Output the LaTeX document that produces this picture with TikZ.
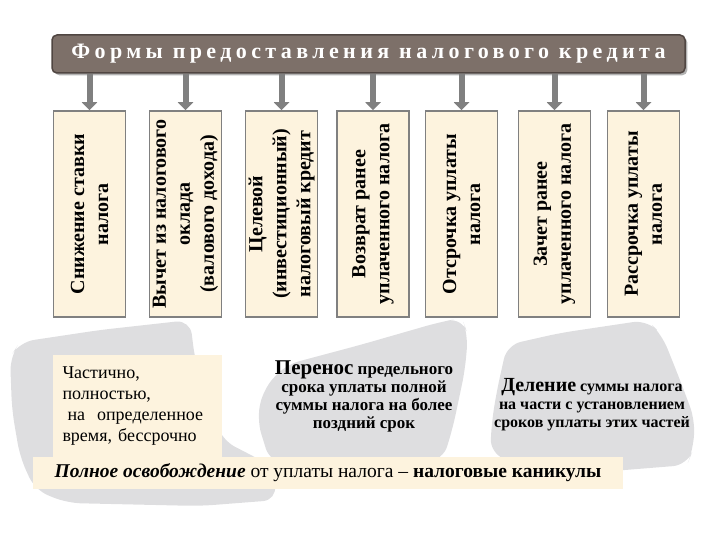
\documentclass[tikz,border=0pt]{standalone}
\usepackage{fontspec}
\setmainfont{Liberation Serif}
\newfontfamily\headfont[LetterSpace=20]{Liberation Serif}
\newfontfamily\plainfont{Liberation Serif}
\usepackage{xcolor}
\usetikzlibrary{arrows.meta,shadows}

\definecolor{cream}{RGB}{253,243,222}
\definecolor{granite}{RGB}{125,112,105}
\definecolor{graniteedge}{RGB}{80,70,66}
\definecolor{blob}{RGB}{222,222,224}
\definecolor{frame}{RGB}{128,128,128}

\begin{document}
\begin{tikzpicture}[x=1pt, y=-1pt, every node/.style={align=center, inner sep=0pt},
	formbox/.style={rotate=90, draw=frame, line width=1.5pt, fill=cream, minimum width=206pt, minimum height=72pt, font=\plainfont\bfseries\fontsize{20}{24}\selectfont},
	feed/.style={draw=frame, line width=6pt, -{Triangle[width=15pt,length=8pt]}}]
				\useasboundingbox (0,0) rectangle (720,540);
				% gray patches behind the lower part
				\fill[blob, rounded corners=14pt] (20,342) -- (100,330) -- (190,320) -- (195,360) -- (222,440) -- (272,466) -- (277,500) -- (200,506) -- (67,503) -- (35,490) -- (20,457) -- (12,410) -- (10,357) -- cycle;
				\fill[blob, rounded corners=14pt] (257,420) -- (263,390) -- (285,365) -- (360,345) -- (440,322) -- (462,318) -- (468,335) -- (465,370) -- (453,427) -- (443,460) -- (350,470) -- (270,462) -- cycle;
				\fill[blob, rounded corners=14pt] (507,345) -- (560,333) -- (647,320) -- (662,335) -- (680,380) -- (695,420) -- (693,450) -- (687,465) -- (600,472) -- (520,465) -- (490,453) -- (492,420) -- (497,390) -- cycle;

				\node (title) at (368.5,54) [fill=granite, draw=graniteedge, line width=1.5pt, rounded corners=5pt, minimum width=633pt, minimum height=38pt, drop shadow={opacity=0.6}, text=white, font=\headfont\bfseries\fontsize{22}{26}\selectfont] {Формы предоставления налогового кредита};

				\node (rate) at (89.5,214) [formbox] {Снижение ставки\\налога};
				\node (deduct) at (185.5,214) [formbox] {Вычет из налогового\\оклада\\(валового дохода)};
				\node (invest) at (281.5,214) [formbox] {Целевой\\(инвестиционный)\\налоговый кредит};
				\node (refund) at (373,214) [formbox] {Возврат ранее\\уплаченного налога};
				\node (defer) at (461.5,214) [formbox] {Отсрочка уплаты\\налога};
				\node (offset) at (554.5,214) [formbox] {Зачет ранее\\уплаченного налога};
				\node (install) at (643.5,214) [formbox] {Рассрочка уплаты\\налога};

				\draw[feed] (title.south -| rate.east) -- (rate.east);
				\draw[feed] (title.south -| deduct.east) -- (deduct.east);
				\draw[feed] (title.south -| invest.east) -- (invest.east);
				\draw[feed] (title.south -| refund.east) -- (refund.east);
				\draw[feed] (title.south -| defer.east) -- (defer.east);
				\draw[feed] (title.south -| offset.east) -- (offset.east);
				\draw[feed] (title.south -| install.east) -- (install.east);

				\node (part) at (137.5,406) [fill=cream, minimum width=169pt, minimum height=102pt, text width=150pt, align=left, font=\plainfont\fontsize{18}{21}\selectfont] {Частично,\\полностью,\\\hspace*{5pt}на\ \ определенное\\время, бессрочно};
				\node (transfer) at (364,396) [font=\plainfont\bfseries\fontsize{17}{18}\selectfont] {{\fontsize{21}{18}\selectfont Перенос} предельного\\срока уплаты полной\\суммы налога на более\\поздний срок};
				\node (split) at (592,405) [font=\plainfont\bfseries\fontsize{16}{18}\selectfont] {{\fontsize{20}{18}\selectfont Деление} суммы налога\\на части с установлением\\сроков уплаты этих частей};
				\node (holiday) at (328,473) [fill=cream, minimum width=590pt, minimum height=32pt, font=\plainfont\fontsize{19.5}{22}\selectfont] {\textbf{\textit{Полное освобождение}} от уплаты налога – \textbf{налоговые каникулы}};
			\end{tikzpicture}
\end{document}
